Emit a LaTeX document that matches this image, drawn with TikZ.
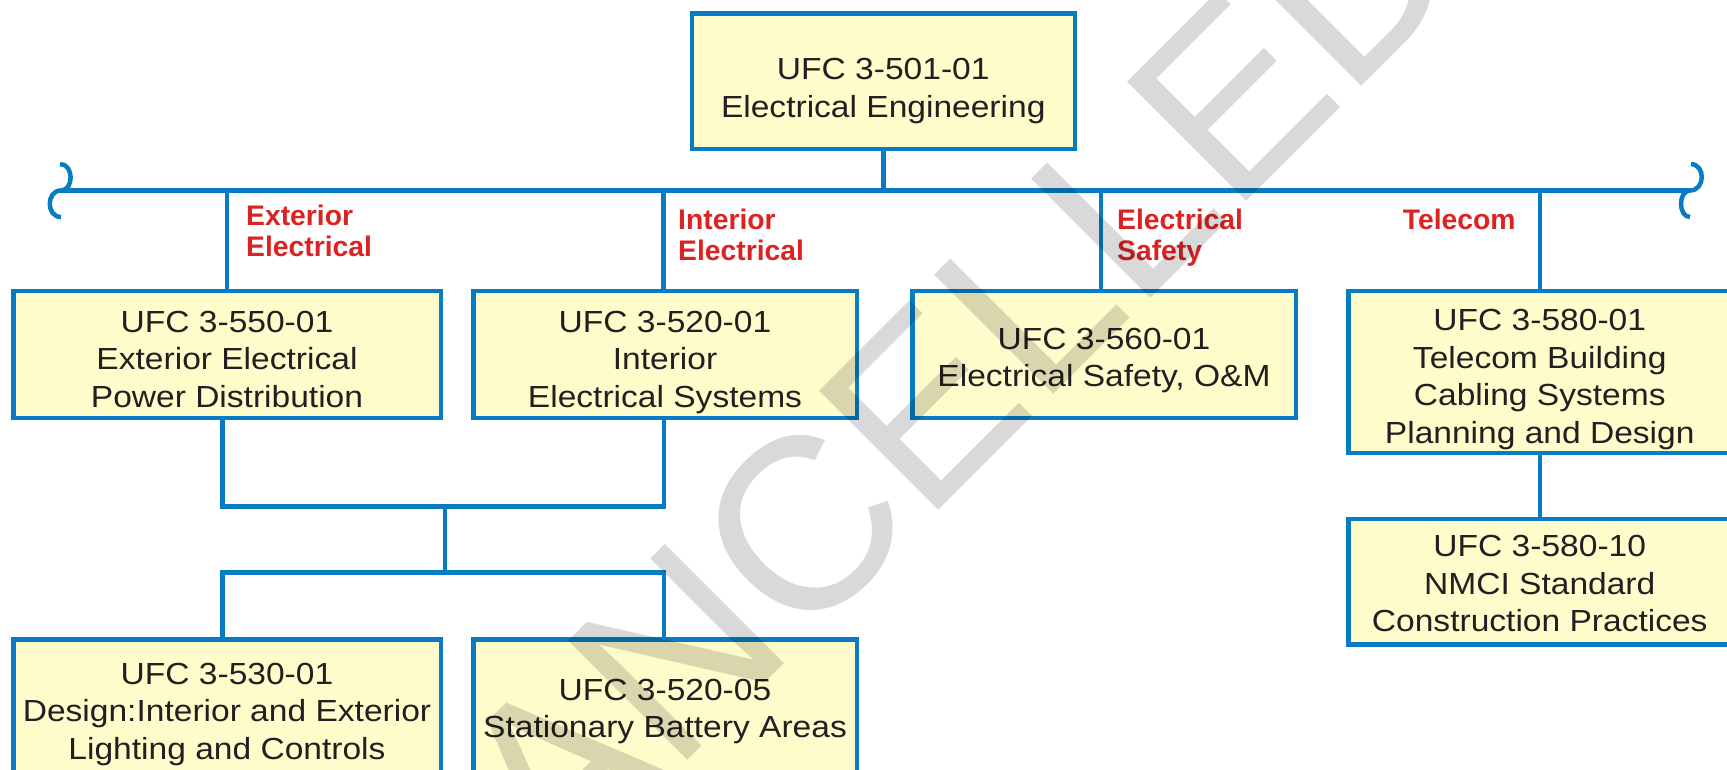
\documentclass[tikz,border=0pt]{standalone}
\usepackage{fontspec}
\setmainfont{Liberation Sans}
\newfontfamily\boxfont{Liberation Sans}[FakeStretch=1.1]
\definecolor{ufcblue}{RGB}{8,124,194}
\definecolor{ufcfill}{RGB}{255,252,204}
\definecolor{ufctext}{RGB}{35,31,32}
\definecolor{ufcred}{RGB}{220,35,35}
% text lines of a box, lowered by #1 without changing the node's size
\newcommand{\boxlines}[2]{\raisebox{-#1}[\height][\depth]{\begin{tabular}{@{}c@{}}#2\end{tabular}}}
\begin{document}
\begin{tikzpicture}[x=1pt,y=-1pt,
  box/.style={draw=ufcblue, line width=4.5pt, fill=ufcfill, text=ufctext,
    inner sep=0pt, font=\boxfont\fontsize{30.5}{37.5}\selectfont},
  conn/.style={draw=ufcblue, line width=4.5pt},
  cat/.style={text=ufcred, font=\bfseries\fontsize{28.3}{31}\selectfont, align=left,
    anchor=north west, inner sep=0pt},
  wm/.style={text=black, opacity=0.15, font=\fontsize{245}{245}\selectfont, inner sep=0pt}
]
\useasboundingbox (0,0) rectangle (1727,769);
\clip (0,0) rectangle (1727,769);
\fill[white] (0,0) rectangle (1727,769);

% boxes
\node[box, minimum width=383pt, minimum height=135.5pt] (top) at (883.25,81) {\boxlines{10pt}{UFC 3-501-01\\Electrical Engineering}};
\node[box, minimum width=427.5pt, minimum height=127pt] (A) at (227,354.25) {\boxlines{7.8pt}{UFC 3-550-01\\Exterior Electrical\\Power Distribution}};
\node[box, minimum width=383.5pt, minimum height=127pt] (B) at (665,354.25) {\boxlines{7.8pt}{UFC 3-520-01\\Interior\\Electrical Systems}};
\node[box, minimum width=383.5pt, minimum height=127pt] (C) at (1104,354.25) {\boxlines{6.2pt}{UFC 3-560-01\\Electrical Safety, O\&M}};
\node[box, minimum width=383pt, minimum height=162pt] (D) at (1539.75,371.75) {\boxlines{7.8pt}{UFC 3-580-01\\Telecom Building\\Cabling Systems\\Planning and Design}};
\node[box, minimum width=383pt, minimum height=125.5pt] (E) at (1539.75,581.5) {\boxlines{5pt}{UFC 3-580-10\\NMCI Standard\\Construction Practices}};
\node[box, minimum width=427.5pt, minimum height=136pt] (F) at (227,707.25) {\boxlines{7.2pt}{UFC 3-530-01\\Design:Interior and Exterior\\Lighting and Controls}};
\node[box, minimum width=383.5pt, minimum height=136pt] (G) at (665,707.25) {\boxlines{4pt}{UFC 3-520-05\\Stationary Battery Areas}};

% bus with curled ends
\coordinate (bl) at (61,190.5);
\coordinate (br) at (1690,190.5);
\coordinate (blt) at (60,164);
\coordinate (blb) at (61,217);
\coordinate (brt) at (1691,164);
\coordinate (brb) at (1690,217);
\draw[conn] (bl) -- (br);
\draw[conn] (blt) .. controls (74,164) and (74,190.5) .. (bl) .. controls (46,190.5) and (46,217) .. (blb);
\draw[conn] (brt) .. controls (1706,165) and (1705,190.5) .. (br) .. controls (1678,190.5) and (1678,217) .. (brb);

% connectors
\draw[conn] (top.south) -- (top.south |- bl);
\draw[conn] (A.north) -- (A.north |- bl);
\draw[conn] ([xshift=-1.5pt]B.north) -- ([xshift=-1.5pt]B.north |- bl);
\draw[conn] ([xshift=-3pt]C.north) -- ([xshift=-3pt]C.north |- bl);
\draw[conn] (D.north) -- (D.north |- bl);
\draw[conn] (D.south) -- (E.north);
\coordinate (j1) at (445,506.7);
\coordinate (j2) at (445,572.3);
\draw[conn] ([xshift=-4.5pt]A.south) |- (j1) -| ([xshift=-1pt]B.south);
\draw[conn] (j1) -- (j2);
\draw[conn] ([xshift=-4.5pt]F.north) |- (j2) -| ([xshift=-1pt]G.north);

% category labels
\node[cat] (lext) at (246,205) {Exterior\\Electrical};
\node[cat] (lint) at (678,208.3) {Interior\\Electrical};
\node[cat] (lsaf) at (1117,208.3) {Electrical\\Safety};
\node[cat] (ltel) at (1402.7,208.3) {Telecom};

% watermark
\node[wm, rotate=45] (wmark) at (893.6,435.4) {CANCELLED};
\end{tikzpicture}
\end{document}
